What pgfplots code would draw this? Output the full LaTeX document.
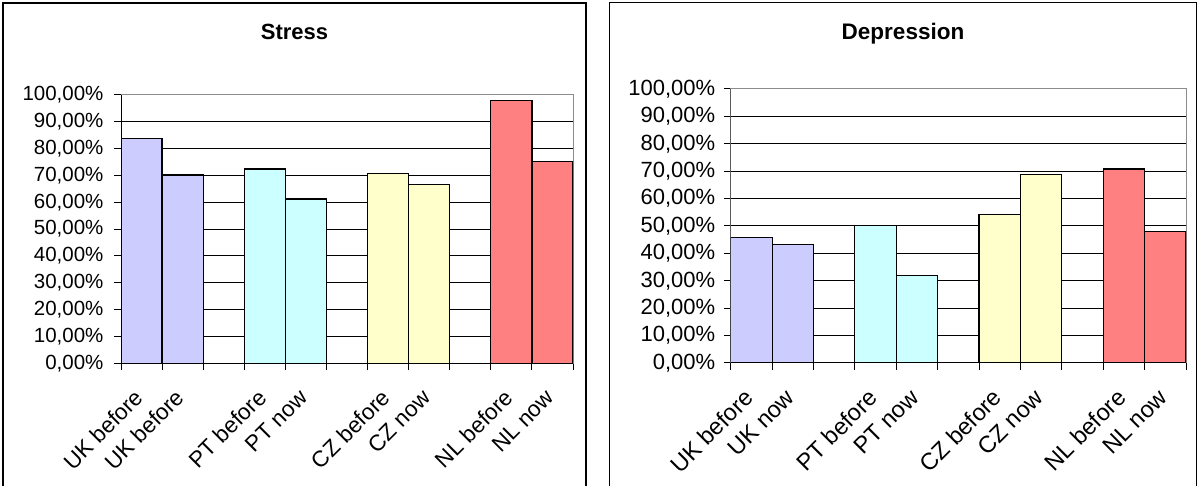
\documentclass[border=0pt]{standalone}
\usepackage{fontspec}
\setmainfont{Liberation Sans}
\usepackage{pgfplots}
\pgfplotsset{compat=1.18}
\definecolor{ukc}{HTML}{CCCCFF}
\definecolor{ptc}{HTML}{CCFFFF}
\definecolor{czc}{HTML}{FFFFCC}
\definecolor{nlc}{HTML}{FF8080}
\definecolor{frame}{HTML}{8C8C8C}
\pgfplotsset{panel/.style={
  scale only axis,
  xmin=-0.5, xmax=10.5, ymin=0, ymax=100,
  /pgf/number format/assume math mode=true,
  ytick={0,10,...,100},
  yticklabel={\pgfmathprintnumber[fixed,fixed zerofill,precision=2,use comma]{\tick}\%},
  xtick={-0.5,0.5,...,10.5},
  xticklabels={},
  extra x ticks={0,1,...,10},
  ymajorgrids,
  major grid style={black, line width=1pt},
  axis line style={draw=frame, line width=1pt},
  tick align=outside, tick pos=left,
  major tick length=7pt,
  tick style={black, line width=1pt},
  every axis plot/.append style={ybar, bar width=1, bar shift=0pt, draw=black, line width=1.2pt},
}}
\begin{document}
\begin{tikzpicture}[x=1pt,y=1pt]
\useasboundingbox (0,0) rectangle (1198,486);
\clip (0,0) rectangle (1198,486);
\fill[white] (0,0) rectangle (1198,486);
\draw[black, line width=1.2pt] (3,483) rectangle (586,-10);
\draw[black, line width=1.2pt] (609.3,483.5) rectangle (1196.7,-10);
\node[anchor=base, font=\bfseries\fontsize{22}{25}\selectfont] at (294.5,446) {Stress};
\node[anchor=base, font=\bfseries\fontsize{22.5}{25}\selectfont] at (903,446) {Depression};

\begin{axis}[panel, at={(121pt,122.7pt)}, anchor=south west, width=452pt, height=268.3pt,
  yticklabel style={font=\fontsize{20.5}{23}\selectfont, text=black, xshift=-7pt},
  extra x tick style={major tick length=0pt, grid=none,
     xticklabel style={font=\fontsize{22.5}{25}\selectfont, text=black, yshift=-28pt, rotate=45, anchor=east}},
  extra x tick labels={UK before, UK before, , PT before, PT now, , CZ before, CZ now, , NL before, NL now}]
\addplot[fill=ukc] coordinates {(0,83.7) (1,70.2)};
\addplot[fill=ptc] coordinates {(3,72.4) (4,61.2)};
\addplot[fill=czc] coordinates {(6,70.7) (7,66.5)};
\addplot[fill=nlc] coordinates {(9,97.9) (10,75.3)};
\draw[black, line width=1pt] (rel axis cs:0,1) -- (rel axis cs:0,0) -- (rel axis cs:1,0);
\end{axis}

\begin{axis}[panel, at={(730.7pt,123pt)}, anchor=south west, width=455.3pt, height=274pt,
  yticklabel style={font=\fontsize{22}{25}\selectfont, text=black, xshift=-5pt},
  extra x tick style={major tick length=0pt, grid=none,
     xticklabel style={font=\fontsize{23.5}{26}\selectfont, text=black, yshift=-28pt, rotate=45, anchor=east}},
  extra x tick labels={UK before, UK now, , PT before, PT now, , CZ before, CZ now, , NL before, NL now}]
\addplot[fill=ukc] coordinates {(0,45.9) (1,43.3)};
\addplot[fill=ptc] coordinates {(3,50.1) (4,31.9)};
\addplot[fill=czc] coordinates {(6,54.3) (7,68.7)};
\addplot[fill=nlc] coordinates {(9,70.8) (10,47.9)};
\draw[black, line width=1pt] (rel axis cs:0,1) -- (rel axis cs:0,0) -- (rel axis cs:1,0);
\end{axis}
\end{tikzpicture}
\end{document}
